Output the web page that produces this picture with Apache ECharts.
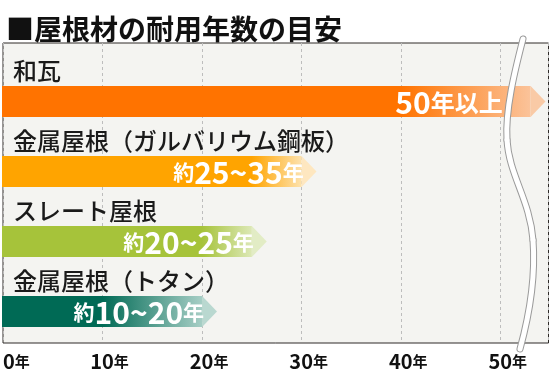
<!DOCTYPE html>
<html><head><meta charset="utf-8">
<script src="https://cdn.jsdelivr.net/npm/echarts@6/dist/echarts.min.js"></script>
<style>html,body{margin:0;padding:0;background:#fff}#c{width:550px;height:378px}</style>
</head><body><div id="c"></div>
<script>
const titleText = '■屋根材の耐用年数の目安';
const categories = ['和瓦', '金属屋根（ガルバリウム鋼板）', 'スレート屋根', '金属屋根（トタン）'];
const barEnds = [53, 30, 25, 20];
const fadeStarts = [40, 25, 20, 10];
const labelEnds = [50, 30, 25, 20];
const labelPrefix = ['', '約', '約', '約'];
const labelNumbers = ['50', '25~35', '20~25', '10~20'];
const labelSuffix = ['年以上', '年', '年', '年'];
const tickUnit = '年';

const solidColors = ['#ff7300', '#ffa400', '#a6c33a', '#006a55'];
const lightColors = ['#fbc39a', '#fde2ad', '#dce8b6', '#a6cec5'];
const tipColors = ['#f9caa6', '#fee7c0', '#e2ecc5', '#b9d8d0'];
const FONT = "'Noto Sans CJK JP', 'Noto Sans', sans-serif";

const data = categories.map((c, i) => ({ value: [barEnds[i], i, fadeStarts[i], labelEnds[i]], name: c }));

const chart = echarts.init(document.getElementById('c'), null, { renderer: 'canvas' });

function renderItem(params, api) {
  const i = params.dataIndex;
  const idx = api.value(1);
  const end = api.value(0);
  const p0 = api.coord([0, idx]);
  const p1 = api.coord([end, idx]);
  const pg = api.coord([api.value(2), idx]);
  const pl = api.coord([api.value(3), idx]);
  const unit = api.size([0, 1])[1];
  const h = unit * 31 / 70;
  const cy = p0[1];
  const top = cy - h / 2;
  const w = p1[0] - p0[0];
  const tip = h * 0.48;
  const fs = Math.max(0, Math.min(1, (pg[0] - p0[0]) / w));
  const rich = {
    s: { fontSize: 21, fontWeight: 'bold', fill: '#fff', fontFamily: FONT },
    b: { fontSize: 30, fontWeight: 'bold', fill: '#fff', fontFamily: FONT },
    t: { fontSize: i === 0 ? 24 : 21, fontWeight: 'bold', fill: '#fff', fontFamily: FONT }
  };
  const txt = (labelPrefix[i] ? '{s|' + labelPrefix[i] + '}' : '') + '{b|' + labelNumbers[i] + '}{t|' + labelSuffix[i] + '}';
  return {
    type: 'group',
    children: [
      {
        type: 'rect',
        shape: { x: p0[0] - 1, y: top, width: w + 1, height: h },
        style: {
          fill: {
            type: 'linear', x: 0, y: 0, x2: 1, y2: 0,
            colorStops: [
              { offset: 0, color: solidColors[i] },
              { offset: fs, color: solidColors[i] },
              { offset: 1, color: lightColors[i] }
            ]
          }
        }
      },
      {
        type: 'polygon',
        shape: { points: [[p1[0], top], [p1[0] + tip, cy], [p1[0], top + h]] },
        style: { fill: tipColors[i] }
      },
      {
        type: 'text',
        style: {
          text: categories[i], x: p0[0] + 10, y: cy - 30.5,
          fill: '#1a1a1a', fontSize: 24, fontWeight: 500, fontFamily: FONT,
          align: 'left', verticalAlign: 'middle'
        }
      },
      {
        type: 'text',
        style: {
          text: txt, rich: rich, x: pl[0] + 2, y: cy + 1,
          align: 'right', verticalAlign: 'middle', fill: '#fff', fontFamily: FONT
        }
      }
    ]
  };
}

const gridTop = 43, gridH = 300, rowPx = 70, firstCenter = 101.5;
const yMin = (gridTop - firstCenter) / rowPx;
const yMax = (gridTop + gridH - firstCenter) / rowPx;

// decorative axis-break band (pixel curve segments)
const breakSegs = [
  { x1: 523, y1: 39, cpx1: 515, cpy1: 70, cpx2: 505, cpy2: 110, x2: 507, y2: 140 },
  { x1: 507, y1: 140, cpx1: 509, cpy1: 175, cpx2: 530, cpy2: 200, x2: 533, y2: 240 },
  { x1: 533, y1: 240, cpx1: 536, cpy1: 280, cpx2: 528, cpy2: 320, x2: 520, y2: 349 }
];
const breakGraphics = [];
breakSegs.forEach(s => breakGraphics.push({ type: 'bezierCurve', z: 100, silent: true, shape: s, style: { fill: null, stroke: '#9a9a9a', lineWidth: 7, lineCap: 'round' } }));
breakSegs.forEach(s => breakGraphics.push({ type: 'bezierCurve', z: 101, silent: true, shape: s, style: { fill: null, stroke: '#ffffff', lineWidth: 5, lineCap: 'round' } }));

chart.setOption({
  animation: false,
  backgroundColor: '#ffffff',
  title: {
    text: titleText, left: 1, top: 9,
    textStyle: { fontSize: 28, fontWeight: 'bold', color: '#111', fontFamily: FONT, lineHeight: 30 }
  },
  grid: {
    left: 0.5, top: gridTop, width: 548, height: gridH, show: true,
    backgroundColor: '#f4f4f1', borderColor: '#2e2a28', borderWidth: 1
  },
  xAxis: {
    type: 'value', min: 0, max: 54.8, interval: 10,
    axisLine: { show: false }, axisTick: { show: false },
    splitLine: { show: true, lineStyle: { color: '#bdbdbd', type: [3, 3], width: 1 } },
    axisLabel: {
      margin: 8, showMaxLabel: false, alignMinLabel: 'left',
      formatter: function (v) {
        if (v % 10 !== 0) return '';
        if (v === 0) return '{n|0}{u|' + tickUnit + '}';
        return '{p| }{n|' + v + '}{u|' + tickUnit + '}';
      },
      rich: {
        p: { width: 14, fontSize: 10 },
        n: { fontSize: 20, fontWeight: 'bold', color: '#111', fontFamily: FONT },
        u: { fontSize: 15, fontWeight: 'bold', color: '#111', fontFamily: FONT }
      }
    }
  },
  yAxis: {
    type: 'value', inverse: true, min: yMin, max: yMax, show: false,
    splitLine: { show: false }
  },
  series: [{
    type: 'custom', renderItem: renderItem, data: data,
    encode: { x: 0, y: 1 }, clip: false, z: 5
  }],
  graphic: breakGraphics
});
</script></body></html>
